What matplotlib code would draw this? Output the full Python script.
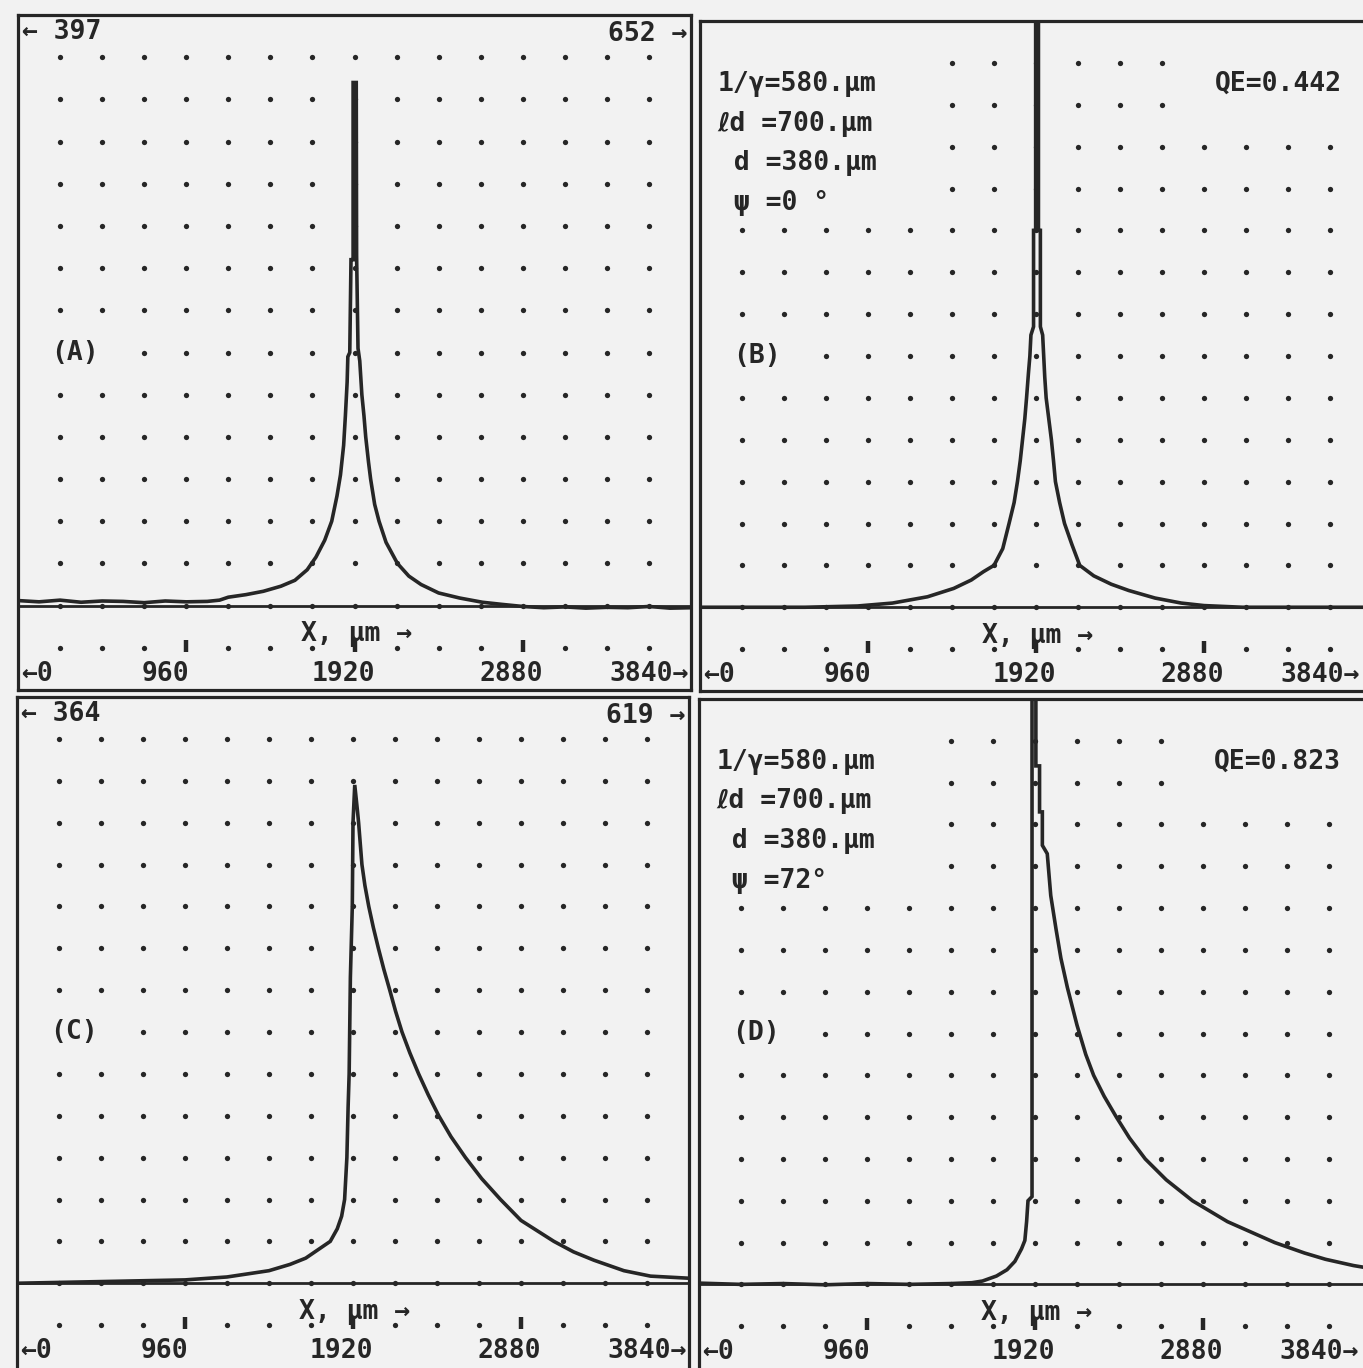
import matplotlib.pyplot as plt

# Four scanned panels: charge spread along X (um), y in grid divisions above the baseline.
# Values.

# (A) psi = 0, small detector
a_x = [0, 120, 240, 360, 480, 600, 720, 840, 960, 1080, 1150, 1200, 1300, 1400, 1500,
       1580, 1650, 1700, 1750, 1790, 1820, 1840, 1858, 1868, 1878, 1882, 1893, 1900,
       1912, 1912, 1930, 1932, 1940, 1950, 1962, 1974, 1984, 2000, 2012, 2035, 2060,
       2100, 2165, 2230, 2300, 2400, 2520, 2650, 2760, 2880, 3000, 3120, 3240, 3360,
       3480, 3600, 3720, 3840]
a_y = [0.12, 0.09, 0.13, 0.08, 0.11, 0.10, 0.07, 0.11, 0.09, 0.10, 0.13, 0.20, 0.26,
       0.34, 0.46, 0.60, 0.85, 1.15, 1.55, 2.00, 2.60, 3.10, 3.80, 4.50, 5.30, 5.90,
       6.00, 8.20, 8.20, 12.40, 12.40, 8.30, 6.10, 5.80, 5.00, 4.50, 4.00, 3.40, 3.00,
       2.40, 2.00, 1.50, 1.00, 0.70, 0.50, 0.30, 0.18, 0.08, 0.03, -0.02, -0.05, -0.03,
       -0.06, -0.04, -0.05, -0.02, -0.06, -0.05]

# (B) psi = 0, peak runs off the top
b_x = [0, 600, 900, 1100, 1300, 1450, 1550, 1620, 1680, 1730, 1766, 1795, 1814, 1830,
       1843, 1856, 1866, 1877, 1885, 1891, 1906, 1906, 1918, 1918,
       1934, 1934, 1945, 1945, 1958, 1964, 1970, 1978, 1993, 2008, 2020, 2031, 2055,
       2083, 2125, 2170, 2250, 2350, 2450, 2600, 2750, 2880, 3100, 3840]
b_y = [0.0, 0.0, 0.03, 0.10, 0.25, 0.45, 0.65, 0.85, 1.00, 1.40, 2.00, 2.50, 3.00, 3.50,
       4.00, 4.50, 5.00, 5.60, 6.00, 6.50, 6.70, 9.00, 9.00, 15.0,
       15.0, 9.00, 9.00, 6.70, 6.50, 6.00, 5.50, 5.00, 4.50, 4.00, 3.50, 3.00, 2.50,
       2.00, 1.50, 1.00, 0.75, 0.55, 0.40, 0.22, 0.10, 0.04, 0.0, 0.0]

# (C) psi = 72, small detector
c_x = [0, 240, 480, 720, 960, 1200, 1440, 1560, 1650, 1720, 1790, 1830, 1855, 1872,
       1885, 1892, 1898, 1905, 1916, 1920, 1930, 1945, 1952, 1971, 1988, 2010, 2036,
       2065, 2096, 2130, 2163, 2200, 2245, 2295, 2350, 2410, 2480, 2563, 2655, 2763,
       2880, 3068, 3180, 3297, 3468, 3620, 3840]
c_y = [0.0, 0.02, 0.04, 0.06, 0.08, 0.15, 0.30, 0.45, 0.60, 0.80, 1.00, 1.30, 1.60,
       2.00, 3.00, 4.20, 5.00, 7.30, 9.00, 11.0, 11.9, 11.3, 11.0, 10.0, 9.50, 9.00,
       8.50, 8.00, 7.50, 7.00, 6.50, 6.00, 5.50, 5.00, 4.50, 4.00, 3.50, 3.00, 2.50,
       2.00, 1.50, 1.00, 0.75, 0.55, 0.30, 0.17, 0.12]

# (D) psi = 72, peak runs off the top
d_x = [0, 240, 480, 720, 960, 1200, 1440, 1560, 1620, 1700, 1760, 1805, 1843, 1862,
       1872, 1880, 1903, 1903, 1925, 1925, 1946, 1946, 1962, 1962, 1990, 2010, 2040,
       2068, 2105, 2160, 2210, 2255, 2315, 2385, 2460, 2550, 2670, 2820, 3020, 3290,
       3460, 3580, 3740, 3840]
d_y = [0.03, 0.0, 0.02, -0.01, 0.02, 0.0, 0.02, 0.04, 0.08, 0.20, 0.35, 0.55, 0.85,
       1.05, 1.50, 2.00, 2.10, 15.0, 15.0, 12.4, 12.4, 11.3, 11.3, 10.5, 10.3, 9.30,
       8.50, 7.80, 7.10, 6.20, 5.50, 5.00, 4.50, 4.00, 3.50, 3.00, 2.50, 2.00, 1.50,
       1.00, 0.75, 0.60, 0.45, 0.38]

grid_cols = [240, 480, 720, 960, 1200, 1440, 1680, 1920, 2160, 2400, 2640, 2880,
             3120, 3360, 3600]
grid_rows = [-1, 0, 1, 2, 3, 4, 5, 6, 7, 8, 9, 10, 11, 12, 13]
tick_cols = [960, 1920, 2880]
tick_labels = ["960", "1920", "2880"]
tick_label_pos = [840, 1855, 2815]

params = ["1/γ=580.μm", "ℓd =700.μm", " d =380.μm"]
psi_b = " ψ =0 °"
psi_d = " ψ =72°"

INK = "#262626"
PAPER = "#f2f2f2"
MONO = ["DejaVu Sans Mono", "DejaVu Sans"]
FS = 19
W, H = 1363, 1368

fig = plt.figure(figsize=(W / 100, H / 100), dpi=100, facecolor=PAPER)


def txt(ax, x, y, s, ha="left"):
    ax.text(x, y, s, ha=ha, va="center", fontsize=FS, fontweight="bold",
            family=MONO, color=INK, zorder=5)


def panel(box, xs, ys, tag, top_labels=None, qe=None, psi=None, right_lab=3830,
          cut_bottom=False):
    left, right, top, bottom = box
    ax = fig.add_axes([left / W, 1 - bottom / H, (right - left) / W, (bottom - top) / H])
    ax.set_xlim(0, 3840)
    ax.set_ylim(-2, 14)
    ax.set_facecolor("none")
    ax.set_xticks([])
    ax.set_yticks([])
    for sp in ax.spines.values():
        sp.set_linewidth(2.3)
        sp.set_color(INK)
    # the scan cuts the lower panels off at the bottom edge
    if cut_bottom:
        ax.spines["bottom"].set_visible(False)

    # which grid dots are covered by the text blocks
    hidden = {(240, 6), (480, 6)}
    if qe is not None:
        hidden |= {(c, r) for c in grid_cols[:5] for r in (10, 11, 12, 13)}
        hidden |= {(c, r) for c in grid_cols[11:] for r in (12, 13)}
    hidden |= {(c, -1) for c in tick_cols}
    px = [c for c in grid_cols for r in grid_rows if (c, r) not in hidden]
    py = [r for c in grid_cols for r in grid_rows if (c, r) not in hidden]
    ax.plot(px, py, "o", ms=3.8, color=INK, mec="none", zorder=1)
    ax.plot(tick_cols, [-0.95] * 3, "|", ms=9, mew=3.2, color=INK, zorder=1)

    ax.axhline(0, color=INK, lw=2.0, zorder=2)
    ax.plot(xs, ys, color=INK, lw=2.6, solid_joinstyle="miter", zorder=3)

    txt(ax, 190, 6, "(" + tag + ")")
    txt(ax, 1930, -0.68, "X, μm →", ha="center")
    txt(ax, 20, -1.62, "←0")
    for pos, lab in zip(tick_label_pos, tick_labels):
        txt(ax, pos, -1.62, lab, ha="center")
    txt(ax, right_lab, -1.62, "3840→", ha="right")

    if top_labels is not None:
        txt(ax, 25, 13.6, top_labels[0])
        txt(ax, 3820, 13.55, top_labels[1], ha="right")
    if qe is not None:
        for i, line in enumerate(params + [psi]):
            txt(ax, 100, 12.5 - 0.95 * i, line)
        txt(ax, 3666, 12.5, qe, ha="right")
    return ax


panel((18, 691, 15, 690), a_x, a_y, "A", top_labels=("← 397", "652 →"))
panel((700, 1372, 21, 691), b_x, b_y, "B", qe="QE=0.442", psi=psi_b, right_lab=3770)
panel((17, 689, 697, 1367), c_x, c_y, "C", top_labels=("← 364", "619 →"),
      cut_bottom=True)
panel((699, 1371, 699, 1368), d_x, d_y, "D", qe="QE=0.823", psi=psi_d, right_lab=3770,
      cut_bottom=True)

fig.savefig("out.png", dpi=100, facecolor=PAPER)
